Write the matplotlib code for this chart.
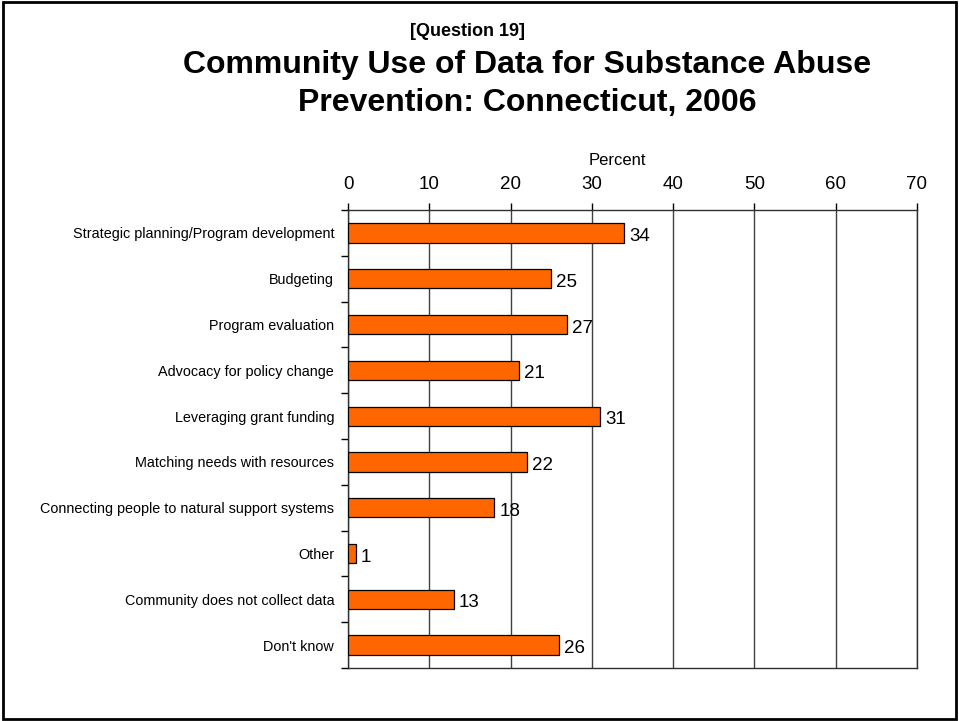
import numpy as np
import matplotlib
matplotlib.use("Agg")
import matplotlib.pyplot as plt
import matplotlib.ticker as ticker
from matplotlib.patches import Rectangle

plt.rcParams['font.family'] = ['Liberation Sans', 'DejaVu Sans']

categories = [
    "Strategic planning/Program development",
    "Budgeting",
    "Program evaluation",
    "Advocacy for policy change",
    "Leveraging grant funding",
    "Matching needs with resources",
    "Connecting people to natural support systems",
    "Other",
    "Community does not collect data",
    "Don't know",
]
percent = [34, 25, 27, 21, 31, 22, 18, 1, 13, 26]

fig = plt.figure(figsize=(9.59, 7.21), dpi=100)
fig.patches.append(Rectangle((0.003, 0.003), 0.994, 0.994, transform=fig.transFigure,
                             fill=False, edgecolor='black', linewidth=2))

ax = fig.add_axes([0.3629, 0.0735, 0.5933, 0.6352])
y = np.arange(len(categories))
ax.barh(y, percent, height=0.42, color='#FF6600', edgecolor='black', linewidth=0.9, zorder=3)
for yi, v in zip(y, percent):
    ax.text(v + 0.6, yi + 0.08, str(v), va='center', ha='left', fontsize=13.5, zorder=4)

ax.set_xlim(0, 70)
ax.set_ylim(len(categories) - 0.5, -0.5)
ax.xaxis.tick_top()
ax.xaxis.set_label_position('top')
ax.xaxis.set_major_locator(ticker.MultipleLocator(10))
ax.tick_params(axis='x', length=5, width=1, pad=7, labelsize=13.5, color='black')
ax.set_xlabel('Percent', fontsize=12, labelpad=8, x=0.4735)
ax.grid(axis='x', color='#404040', linewidth=1, zorder=0)

ax.set_yticks(y)
ax.set_yticklabels(categories, fontsize=10.4)
ax.yaxis.set_minor_locator(ticker.FixedLocator(np.arange(-0.5, len(categories), 1)))
ax.tick_params(axis='y', which='major', length=0, pad=10)
ax.tick_params(axis='y', which='minor', length=5, width=1, color='black')

for s in ax.spines.values():
    s.set_linewidth(1)
    s.set_color('#303030')

fig.text(0.488, 0.957, '[Question 19]', ha='center', va='center', fontsize=13, fontweight='bold')
fig.text(0.5495, 0.910, 'Community Use of Data for Substance Abuse', ha='center', va='center',
         fontsize=23, fontweight='bold')
fig.text(0.5495, 0.857, 'Prevention: Connecticut, 2006', ha='center', va='center',
         fontsize=23, fontweight='bold')

fig.savefig('out.png', dpi=100)
